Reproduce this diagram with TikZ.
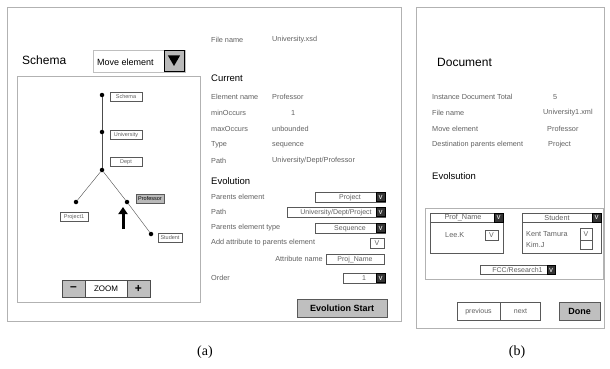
\documentclass[tikz,border=0pt]{standalone}
\usepackage{fontspec}
\setmainfont{Liberation Sans}
\newfontfamily\capfont{Liberation Serif}
\usetikzlibrary{arrows.meta,shapes.geometric}

\begin{document}
\begin{tikzpicture}[x=1pt, y=-1pt,
    frame/.style={draw=gray!60, line width=0.6pt},
    title/.style={anchor=west, inner sep=0, font=\fontsize{12}{13}\selectfont},
    head/.style={anchor=west, inner sep=0, font=\fontsize{9.5}{10}\selectfont},
    lbl/.style={anchor=west, inner sep=0, text=gray!75!black, font=\fontsize{7.3}{8}\selectfont},
    field/.style={draw=gray!70!black, line width=0.5pt, inner sep=0, minimum height=10pt, text height=5pt, text depth=1pt, text=gray!75!black, font=\fontsize{7}{7}\selectfont},
    vsq/.style={fill=black!80, draw=black, text=gray!25, inner sep=0, minimum width=9pt, minimum height=9pt, font=\bfseries\fontsize{6}{6}\selectfont},
    btn/.style={fill=gray!50, draw=gray!70!black, inner sep=0, minimum height=18pt, font=\bfseries\fontsize{9}{9}\selectfont},
    dot/.style={circle, fill=black, inner sep=0, minimum size=4.5pt},
    tag/.style={draw=gray!70!black, line width=0.4pt, inner sep=0, minimum height=9pt, text height=4pt, text depth=1pt, text=gray!75!black, font=\fontsize{5.5}{5.5}\selectfont}]
    \useasboundingbox (0,0) rectangle (610,369);

    % panel (a)
    \draw[frame] (7,7) rectangle (401,321);
    \node[title] (schema) at (22,60) {Schema};
    \node[field, draw=gray!50, minimum width=92pt, minimum height=22pt] (movebox) at (139,61) {};
    \node[anchor=west, inner sep=0, font=\fontsize{9}{10}\selectfont] (movetxt) at (97,62) {Move element};
    \node[fill=gray!55, draw=black, line width=1pt, minimum size=20pt, inner sep=0] (movebtn) at (174,61) {};
    \node[regular polygon, regular polygon sides=3, shape border rotate=180, fill=black, inner sep=0, minimum size=14pt] (movetri) at (174,59) {};

    % tree
    \draw[frame] (17,76) rectangle (200,302);
    \node[dot] (s) at (102,95) {};
    \node[dot] (u) at (102,132) {};
    \node[dot] (d) at (102,170) {};
    \node[dot] (pj) at (76,202) {};
    \node[dot] (pf) at (127,202) {};
    \node[dot] (st) at (151,234) {};
    \draw[gray!60!black] (s) -- (u) -- (d);
    \draw[gray!60!black] (d) -- (pj);
    \draw[gray!60!black] (d) -- (pf) -- (st);
    \node[tag, minimum width=32pt] (ts) at (126,97) {Schema};
    \node[tag, minimum width=32pt] (tu) at (126,135) {University};
    \node[tag, minimum width=32pt] (td) at (126,162) {Dept};
    \node[tag, minimum width=28pt] (tpj) at (74,217) {Project1};
    \node[tag, minimum width=28pt, fill=gray!55, text=black] (tpf) at (150,199) {Professor};
    \node[tag, minimum width=24pt] (tst) at (170,238) {Student};
    \coordinate (arrtail) at (123,229);
    \coordinate (arrtip) at (123,207);
    \draw[line width=3pt, -{Triangle[width=9pt,length=7pt]}] (arrtail) -- (arrtip);

    \node[fill=gray!50, draw=gray!60!black, minimum width=23pt, minimum height=17pt, inner sep=0, font=\bfseries\large] (zminus) at (73.5,288.5) {--};
    \node[draw=gray!60!black, minimum width=42pt, minimum height=17pt, inner sep=0, font=\fontsize{8}{9}\selectfont] (ztxt) at (106,288.5) {ZOOM};
    \node[fill=gray!50, draw=gray!60!black, minimum width=23pt, minimum height=17pt, inner sep=0, font=\bfseries\large] (zplus) at (138.5,288.5) {+};

    % properties
    \node[lbl] (fn) at (211,40) {File name};
    \node[lbl] (fnv) at (272,40) {University.xsd};
    \node[head] (cur) at (211,78) {Current};
    \node[lbl] (en) at (211,97) {Element name};
    \node[lbl] (env) at (272,97) {Professor};
    \node[lbl] (mi) at (211,113) {minOccurs};
    \node[lbl] (miv) at (291,113) {1};
    \node[lbl] (ma) at (211,129) {maxOccurs};
    \node[lbl] (mav) at (272,129) {unbounded};
    \node[lbl] (ty) at (211,145) {Type};
    \node[lbl] (tyv) at (272,145) {sequence};
    \node[lbl] (pa) at (211,161) {Path};
    \node[lbl] (pav) at (272,161) {University/Dept/Professor};
    \node[head] (evo) at (211,181) {Evolution};

    \node[lbl] (pe) at (211,197) {Parents element};
    \node[field, minimum width=70pt] (pebox) at (350,197) {Project\hspace{9pt}};
    \node[vsq, anchor=east] (pev) at (pebox.east) {V};
    \node[lbl] (pp) at (211,212) {Path};
    \node[field, minimum width=98pt] (ppbox) at (336,212) {University/Dept/Project\hspace{9pt}};
    \node[vsq, anchor=east] (ppv) at (ppbox.east) {V};
    \node[lbl] (pt) at (211,228) {Parents element type};
    \node[field, minimum width=70pt] (ptbox) at (350,228) {Sequence\hspace{9pt}};
    \node[vsq, anchor=east] (ptv) at (ptbox.east) {V};
    \node[lbl] (aa) at (211,243) {Add attribute to parents element};
    \node[field, minimum width=14pt] (aabox) at (377,243) {V};
    \node[lbl, anchor=east] (an) at (323,259) {Attribute name};
    \node[field, minimum width=58pt] (anbox) at (355,259) {Proj\_Name};
    \node[lbl] (od) at (211,278) {Order};
    \node[field, minimum width=42pt] (odbox) at (364,278) {1\hspace{9pt}};
    \node[vsq, anchor=east] (odv) at (odbox.east) {V};
    \node[btn, minimum width=90pt] (evstart) at (342,308.5) {Evolution Start};

    % panel (b)
    \draw[frame] (416,7) rectangle (604,328);
    \node[title] (doc) at (437,62) {Document};
    \node[lbl] (idt) at (432,97) {Instance Document Total};
    \node[lbl] (idtv) at (553,97) {5};
    \node[lbl] (dfn) at (432,113) {File name};
    \node[lbl] (dfnv) at (543,113) {University1.xml};
    \node[lbl] (dme) at (432,129) {Move element};
    \node[lbl] (dmev) at (547,129) {Professor};
    \node[lbl] (dpe) at (432,145) {Destination parents element};
    \node[lbl] (dpev) at (548,145) {Project};
    \node[head] (evs) at (432,176) {Evolsution};
    \draw[frame] (425,208) rectangle (603,279);

    \node[draw=gray!70!black, minimum width=73pt, minimum height=40pt, inner sep=0] (pnbox) at (466.5,233) {};
    \draw[gray!70!black] (pnbox.west |- 0,222) -- (pnbox.east |- 0,222);
    \node[lbl, anchor=center] (pnh) at (463,217.5) {Prof\_Name};
    \node[vsq, anchor=north east] (pnv) at (pnbox.north east) {V};
    \node[lbl] (lee) at (445,235) {Lee.K};
    \node[field, minimum width=13pt] (leev) at (491.5,235) {V};

    \node[draw=gray!70!black, minimum width=79pt, minimum height=40pt, inner sep=0] (stbox) at (561.5,233) {};
    \draw[gray!70!black] (stbox.west |- 0,222) -- (stbox.east |- 0,222);
    \node[lbl, anchor=center] (sth) at (557,217.5) {Student};
    \node[vsq, anchor=north east] (stv) at (stbox.north east) {V};
    \node[lbl] (kent) at (526,234) {Kent Tamura};
    \node[lbl] (kim) at (526,245) {Kim.J};
    \node[field, minimum width=12pt, minimum height=12pt] (kentv) at (586,234) {V};
    \node[field, minimum width=12pt, minimum height=9pt, anchor=north] (kentw) at (kentv.south) {};

    \node[field, minimum width=75pt, minimum height=9pt] (fcc) at (517.5,270) {FCC/Research1\hspace{8pt}};
    \node[vsq, anchor=east, minimum height=9pt, minimum width=8pt] (fccv) at (fcc.east) {V};

    \node[field, minimum width=43pt, minimum height=18pt] (prev) at (478.5,311) {previous};
    \node[field, minimum width=40pt, minimum height=18pt, anchor=west] (next) at (prev.east) {next};
    \node[btn, minimum width=41pt] (done) at (579.5,311) {Done};

    % captions
    \node[inner sep=0, font=\capfont\fontsize{14}{15}\selectfont] (capa) at (205,352) {(a)};
    \node[inner sep=0, font=\capfont\fontsize{14}{15}\selectfont] (capb) at (517,352) {(b)};
\end{tikzpicture}
\end{document}
